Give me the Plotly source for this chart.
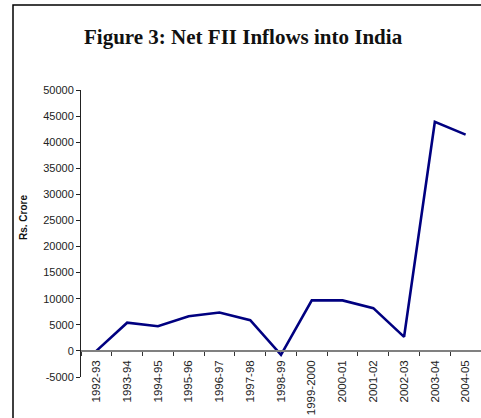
import plotly.graph_objects as go

years = ["1992-93", "1993-94", "1994-95", "1995-96", "1996-97", "1997-98",
         "1998-99", "1999-2000", "2000-01", "2001-02", "2002-03", "2003-04", "2004-05"]
net_fii = [13, 5400, 4720, 6650, 7350, 5880, -750, 9700, 9680, 8200, 2690, 43900, 41450]

y_ticks = list(range(-5000, 50001, 5000))

W, H = 481, 418
L, R, T, B = 81, 0, 90, 41
pw, ph = W - L - R, H - T - B

def px_x(x):
    return (x - L) / pw

def px_y(y):
    return (H - B - y) / ph

fig = go.Figure()
fig.add_trace(go.Scatter(x=years, y=net_fii, mode="lines",
                         line=dict(color="#000080", width=2.6), hoverinfo="skip"))

fig.update_layout(
    width=W, height=H,
    margin=dict(l=L, r=R, t=T, b=B, pad=0),
    paper_bgcolor="white", plot_bgcolor="white",
    showlegend=False,
    font=dict(family="Liberation Sans, Arial, sans-serif", size=11, color="#222"),
    xaxis=dict(type="category", range=[-0.5, 12.5], anchor="free",
               position=5000 / 55000, showline=True, linecolor="#808080", linewidth=1.5,
               ticks="outside", tickson="boundaries", ticklen=4, tickcolor="#333",
               tickwidth=1, tickangle=-90, showgrid=False, zeroline=False,
               ticklabelstandoff=4,
               tickfont=dict(size=11.5, color="#222")),
    yaxis=dict(range=[-5000, 50000], tickvals=y_ticks, ticktext=[str(v) for v in y_ticks],
               showline=True, linecolor="#222", linewidth=1, ticks="outside",
               ticklen=4, tickcolor="#222", showgrid=False, zeroline=False,
               tickfont=dict(size=11, color="#222")),
)

fig.add_annotation(text="<b>Figure 3: Net FII Inflows into India</b>", xref="paper", yref="paper",
                   x=px_x(243.5), y=px_y(37), xanchor="center", yanchor="middle",
                   showarrow=False,
                   font=dict(family="Liberation Serif, Times New Roman, serif", size=21, color="#111"))
fig.add_annotation(text="<b>Rs. Crore</b>", xref="paper", yref="paper",
                   x=px_x(23), y=px_y(218), xanchor="center", yanchor="middle",
                   textangle=-90, showarrow=False,
                   font=dict(family="Liberation Sans, Arial, sans-serif", size=10, color="#111"))

# outer chart frame (extends past the right and bottom edges of the picture)
fig.add_shape(type="rect", xref="paper", yref="paper",
              x0=px_x(13), y0=px_y(440), x1=px_x(500), y1=px_y(5),
              line=dict(color="black", width=1.5), layer="above")

fig.write_html("out.html")
